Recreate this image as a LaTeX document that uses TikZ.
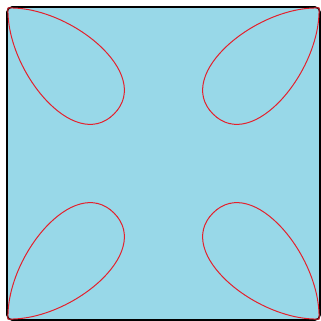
\documentclass[tikz,border=0pt]{standalone}
\definecolor{bgblue}{RGB}{152,216,232}
\definecolor{loopred}{RGB}{228,32,44}
\tikzset{
  frame/.style={draw=black, line width=1.6pt, fill=bgblue, rounded corners=5pt},
  petal/.style={draw=loopred, line width=1pt}
}
\begin{document}
\begin{tikzpicture}[x=1pt,y=-1pt]
\useasboundingbox (0,0) rectangle (321,321);
\draw[frame] (7,7) rectangle (320,320);
\foreach \sx/\sy in {1/1,-1/1,1/-1,-1/-1}{
  \begin{scope}[shift={(163.5,163.5)}, xscale=\sx, yscale=\sy, shift={(-163.5,-163.5)}]
    \draw[petal] (8,8) .. controls (70,6) and (154,74) .. (114,114)
                 .. controls (74,154) and (6,70) .. cycle;
  \end{scope}
}
\end{tikzpicture}
\end{document}
